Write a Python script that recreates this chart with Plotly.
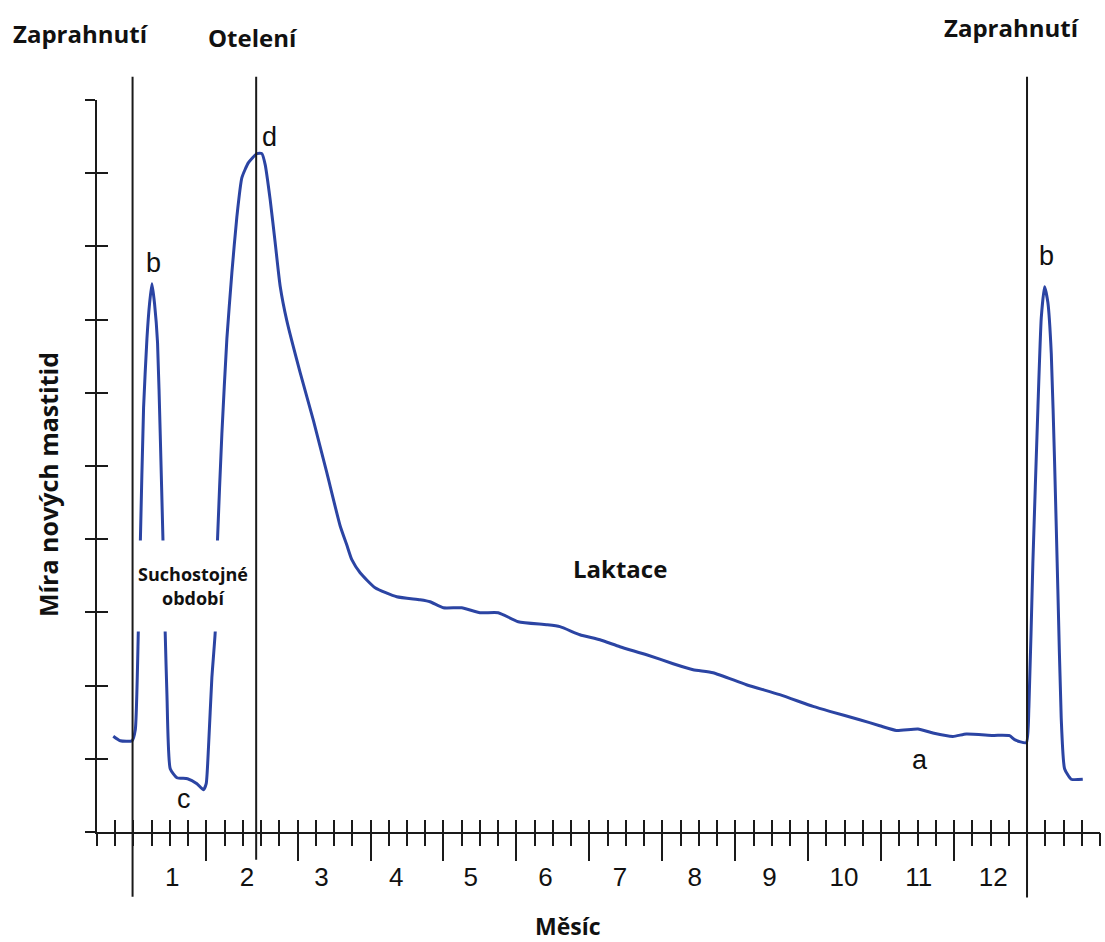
import plotly.graph_objects as go

# ---------------- data ----------------
# month position (x) and mastitis rate (y, in y-axis tick units)
month = [0.210, 0.304, 0.461, 0.505, 0.546, 0.573, 0.616, 0.661, 0.696, 0.728,
         0.763, 0.803, 0.839, 0.876, 0.906, 0.929, 0.973, 1.063, 1.205, 1.331,
         1.419, 1.455, 1.486, 1.531, 1.576, 1.606, 1.665, 1.732, 1.799, 1.866,
         1.933, 2.021, 2.134, 2.201, 2.245, 2.312, 2.379, 2.446, 2.535, 2.714,
         2.892, 3.071, 3.249, 3.339, 3.406, 3.517, 3.718, 4.008, 4.320, 4.454,
         4.632, 4.878, 5.123, 5.368, 5.636, 6.016, 6.194, 6.462, 6.730, 6.997,
         7.355, 7.711, 7.979, 8.246, 8.693, 9.139, 9.585, 9.809, 10.210, 10.478,
         10.701, 10.991, 11.191, 11.459, 11.639, 11.995, 12.218, 12.285, 12.442, 12.477,
         12.530, 12.597, 12.643, 12.687, 12.731, 12.777, 12.821, 12.865, 12.910, 12.955,
         13.044, 13.199]
rate = [1.309, 1.247, 1.247, 1.398, 2.764, 3.980, 5.797, 6.740, 7.217, 7.490,
        7.217, 6.685, 5.441, 3.980, 2.709, 1.876, 0.865, 0.742, 0.728, 0.660,
        0.578, 0.660, 1.165, 2.108, 2.736, 3.980, 5.441, 6.740, 7.641, 8.406,
        8.939, 9.144, 9.267, 9.267, 9.117, 8.639, 8.051, 7.456, 6.985, 6.275,
        5.619, 4.908, 4.184, 3.920, 3.720, 3.542, 3.337, 3.214, 3.173, 3.146,
        3.064, 3.064, 2.996, 2.996, 2.873, 2.832, 2.805, 2.695, 2.627, 2.531,
        2.422, 2.299, 2.217, 2.176, 2.012, 1.876, 1.716, 1.648, 1.534, 1.452,
        1.388, 1.407, 1.352, 1.306, 1.339, 1.320, 1.316, 1.261, 1.220, 1.702,
        3.665, 5.769, 7.026, 7.450, 7.236, 6.537, 5.066, 3.314, 1.561, 0.865,
        0.721, 0.721]

month_ticks = list(range(1, 13))
month_labels = [str(m) for m in month_ticks]

# event lines: month position and how far below the axis each line reaches (paper units)
event_x = [0.4685, 2.1245, 12.452]
event_bottom = [-0.0884, -0.0378, -0.0896]

# ruler ticks on the x axis (index units) and y axis ticks
ruler_ticks = list(range(0, 56))
ruler_long = [6, 11, 15, 19, 23, 27, 31, 35, 39, 43, 47]
y_ticks = list(range(0, 11))

# point letters
letter_text = ["b", "d", "c", "a", "b"]
letter_x = [0.750, 2.299, 1.151, 11.023, 12.710]
letter_y = [7.780, 9.499, 0.455, 0.988, 7.873]

# ---------------- figure ----------------
W, H = 1105, 942
L, R, T, B = 96.7, 4.5, 100.3, 109.7

BLUE = "#2b44a3"
INK = "#1a1a1a"
BOLD = dict(family="Open Sans", size=24, color="#111111", weight=700)

fig = go.Figure()
fig.add_trace(go.Scatter(x=month, y=rate, mode="lines",
                         line=dict(color=BLUE, width=3, shape="spline", smoothing=0.5),
                         hoverinfo="skip", showlegend=False))
# dummy traces so the ruler axes exist
for xa, ya in [("x2", "y"), ("x3", "y"), ("x4", "y"), ("x", "y2")]:
    fig.add_trace(go.Scatter(x=[0], y=[0], xaxis=xa, yaxis=ya, mode="markers",
                             marker=dict(opacity=0), hoverinfo="skip", showlegend=False))

for ex, eb in zip(event_x, event_bottom):
    fig.add_shape(type="line", xref="x", yref="paper", x0=ex, x1=ex, y0=eb, y1=1.0318,
                  line=dict(color=INK, width=2), layer="above")

x_right = (W - R - 97.3) / 74.7
fig.update_layout(
    width=W, height=H,
    margin=dict(l=L, r=R, t=T, b=B),
    paper_bgcolor="white", plot_bgcolor="white",
    showlegend=False,
    xaxis=dict(range=[(L - 97.3) / 74.7, x_right], showgrid=False, zeroline=False,
               showline=True, linecolor=INK, linewidth=2,
               tickmode="array", tickvals=month_ticks, ticktext=month_labels,
               ticks="outside", ticklen=21, tickcolor="rgba(0,0,0,0)",
               tickfont=dict(family="Liberation Sans, Arial", size=26, color="#111111"),
               anchor="y"),
    xaxis2=dict(overlaying="x", range=[0, 55.0], anchor="y", showgrid=False, zeroline=False,
                showline=False, tickmode="array", tickvals=ruler_ticks, ticks="inside",
                ticklen=12, tickwidth=2, tickcolor=INK, showticklabels=False),
    xaxis3=dict(overlaying="x", range=[0, 55.0], anchor="y", showgrid=False, zeroline=False,
                showline=False, tickmode="array", tickvals=ruler_ticks, ticks="outside",
                ticklen=13, tickwidth=2, tickcolor=INK, showticklabels=False),
    xaxis4=dict(overlaying="x", range=[0, 55.0], anchor="y", showgrid=False, zeroline=False,
                showline=False, tickmode="array", tickvals=ruler_long, ticks="outside",
                ticklen=28, tickwidth=2, tickcolor=INK, showticklabels=False),
    yaxis=dict(range=[0, 10], showgrid=False, zeroline=False, showline=True,
               linecolor=INK, linewidth=2, tickmode="array", tickvals=y_ticks,
               ticks="outside", ticklen=10, tickwidth=2, tickcolor=INK,
               showticklabels=False, anchor="x"),
    yaxis2=dict(overlaying="y", range=[0, 10], showgrid=False, zeroline=False,
                showline=False, tickmode="array", tickvals=y_ticks, ticks="inside",
                ticklen=11, tickwidth=2, tickcolor=INK, showticklabels=False, anchor="x"),
)

# letters
for t, lx, ly in zip(letter_text, letter_x, letter_y):
    fig.add_annotation(x=lx, y=ly, xref="x", yref="y", text=t, showarrow=False,
                       font=dict(family="Liberation Sans, Arial", size=27, color="#111111"))

# region labels
fig.add_annotation(x=7.0, y=3.597, xref="x", yref="y", text="Laktace", showarrow=False,
                   font=BOLD)
fig.add_annotation(x=1.281, y=3.365, xref="x", yref="y", text="Suchostojné<br>období",
                   showarrow=False, bgcolor="white", width=116, height=90, borderpad=0,
                   align="center", font=dict(family="Open Sans", size=18, color="#111111", weight=700))

# event headers
for txt, px_, py_ in [("Zaprahnutí", -0.0156, 1.0913), ("Otelení", 0.1552, 1.0851),
                      ("Zaprahnutí", 0.9118, 1.0995)]:
    fig.add_annotation(x=px_, y=py_, xref="paper", yref="paper", text=txt,
                       showarrow=False, font=BOLD, xanchor="center", yanchor="middle")

# axis titles
fig.add_annotation(x=0.4695, y=-0.1282, xref="paper", yref="paper", text="Měsíc",
                   showarrow=False, borderpad=0, xanchor="center", yanchor="middle",
                   font=dict(family="Open Sans", size=23, color="#111111", weight=700))
fig.add_annotation(x=-0.0495, y=0.4744, xref="paper", yref="paper",
                   text="Míra nových mastitid", textangle=-90, showarrow=False,
                   xanchor="center", yanchor="middle",
                   font=dict(family="Open Sans", size=25, color="#111111", weight=700))

fig.write_html("out.html", config={"displayModeBar": False},
               post_script="document.body.style.margin='0';document.body.style.overflow='hidden';")
